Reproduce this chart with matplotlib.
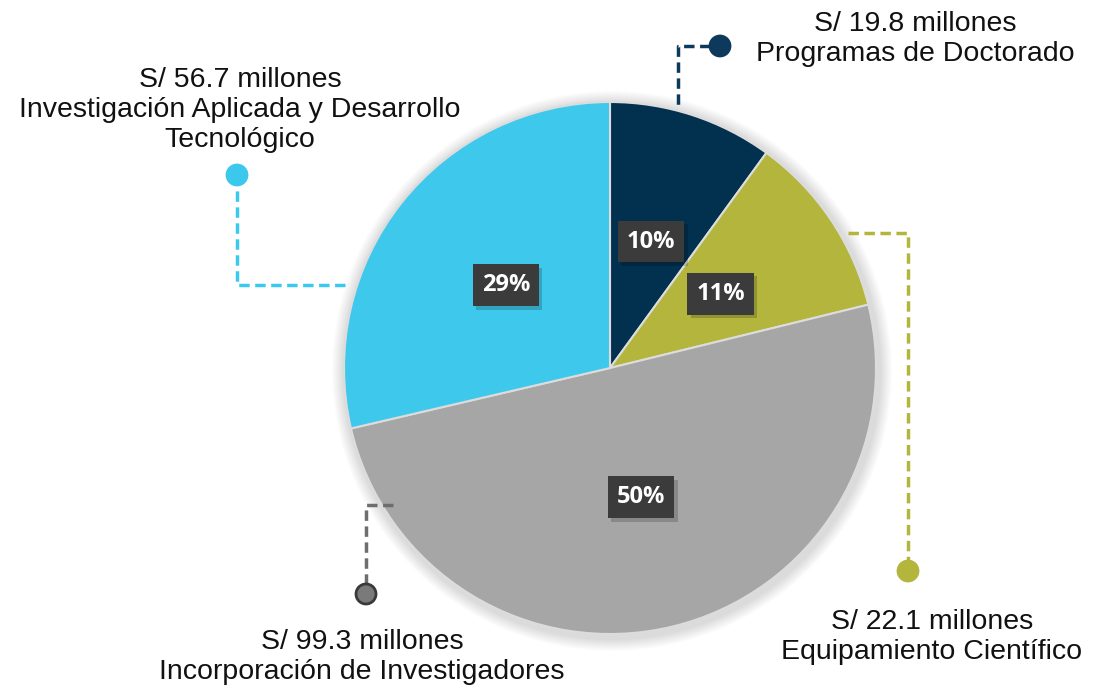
import numpy as np
import matplotlib
matplotlib.use('Agg')
import matplotlib.pyplot as plt
import matplotlib.patheffects as pe
from matplotlib.patches import Circle

# ── Datos ──
categorias = ["Programas de Doctorado", "Equipamiento Científico",
              "Incorporación de Investigadores",
              "Investigación Aplicada y Desarrollo\nTecnológico"]
montos = [19.8, 22.1, 99.3, 56.7]   # millones de soles
colores = ["#02304f", "#b3b53c", "#a6a6a6", "#3ec8ec"]
colores_linea = ["#0d3a5c", "#b3b53c", "#6e6e6e", "#3cc8ec"]

W, H = 1094, 695
CX, CY, R = 610, H - 368, 266

fig = plt.figure(figsize=(W / 100, H / 100), dpi=100)
ax = fig.add_axes([0, 0, 1, 1])

# sombra suave alrededor del pastel
for k in range(12):
    ax.add_patch(Circle((CX + 2, CY - 3), R + 14 - k, color="#000000",
                        alpha=0.012, lw=0, zorder=0))

wedges, _, pcts = ax.pie(montos, colors=colores, startangle=90, counterclock=False,
                         center=(CX, CY), radius=R, autopct='%.0f%%', pctdistance=0.5,
                         wedgeprops=dict(edgecolor="#dcdcdc", linewidth=1.5),
                         textprops=dict(color="white", fontsize=17, fontweight="bold",
                                        family="Open Sans"),
                         frame=True)
ax.set_xlim(0, W)
ax.set_ylim(0, H)
ax.set_aspect('equal')
ax.axis('off')

for t in pcts:
    t.set_bbox(dict(boxstyle='square,pad=0.38', fc='#3b3b3b', ec='none'))
    t.get_bbox_patch().set_path_effects(
        [pe.SimplePatchShadow(offset=(2.5, -2.5), shadow_rgbFace='#000000', alpha=0.18),
         pe.Normal()])
    t.set_zorder(5)

# ── Conectores ──
def conector(xs, ys, dot, color, dot_fc=None, dot_ec=None):
    ys = [H - v for v in ys]
    ax.plot(xs, ys, color=color, lw=2.5, ls=(0, (3, 1.6)), zorder=3,
            solid_capstyle='butt')
    ax.add_patch(Circle((dot[0], H - dot[1]), 10, fc=dot_fc or color,
                        ec=dot_ec or color, lw=2, zorder=4))

conector([710, 678, 678], [46, 46, 108], (720, 46), colores_linea[0])
conector([848, 908, 908], [233, 233, 562], (908, 571), colores_linea[1])
conector([393, 366, 366], [505, 505, 584], (366, 594), colores_linea[2],
         dot_fc="#7a7a7a", dot_ec="#3a3a3a")
conector([345, 237, 237], [285, 285, 185], (237, 175), colores_linea[3])

# ── Etiquetas ──
pos_etiquetas = [(915, 39), (932, 637), (362, 657), (240, 110)]
for cat, m, (x, y) in zip(categorias, montos, pos_etiquetas):
    ax.text(x, H - y, f"S/ {m:.1f} millones\n{cat}", ha='center', va='center',
            fontsize=20.5, family='Liberation Sans', color='#111111', linespacing=1.2)

fig.savefig("out.png", dpi=100)
